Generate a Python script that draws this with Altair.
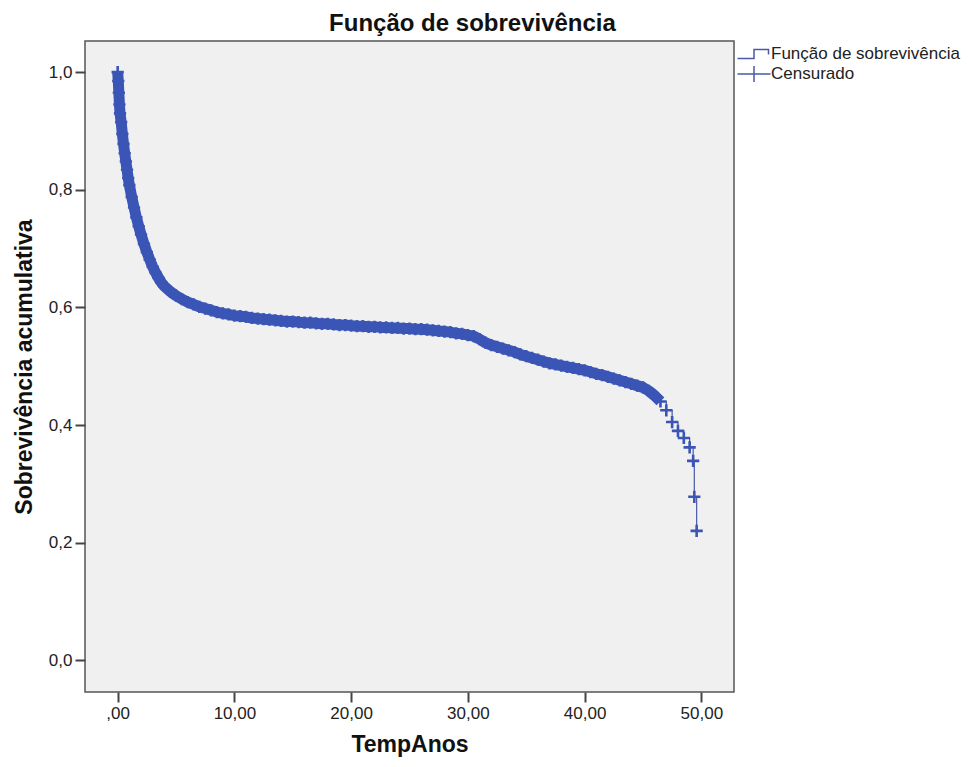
import altair as alt
import pandas as pd

# Kaplan-Meier estimate (time in years, cumulative survival)
time_years = [
    0.0, 0.05, 0.1, 0.15, 0.2, 0.3, 0.4, 0.5, 0.6, 0.7, 0.8, 0.9, 1.0,
    1.2, 1.4, 1.6, 1.8, 2.0, 2.25, 2.5, 2.75, 3.0, 3.25, 3.5, 3.75, 4.0,
    4.5, 5.0, 5.5, 6.0, 6.5, 7.0, 7.5, 8.0, 8.5, 9.0, 9.5, 10.0, 10.5,
    11.0, 11.5, 12.0, 12.5, 13.0, 13.5, 14.0, 14.5, 15.0, 15.5, 16.0,
    16.5, 17.0, 17.5, 18.0, 18.5, 19.0, 19.5, 20.0, 20.5, 21.0, 21.5,
    22.0, 22.5, 23.0, 23.5, 24.0, 24.5, 25.0, 25.5, 26.0, 26.5, 27.0,
    27.5, 28.0, 28.5, 29.0, 29.5, 30.0, 30.5, 31.0, 31.5, 32.0, 32.5,
    33.0, 33.5, 34.0, 34.5, 35.0, 35.5, 36.0, 36.5, 37.0, 37.5, 38.0,
    38.5, 39.0, 39.5, 40.0, 40.5, 41.0, 41.5, 42.0, 42.5, 43.0, 43.5,
    44.0, 44.5, 45.0, 45.5, 46.0, 46.5, 47.0, 47.5, 48.0, 48.5, 49.0,
    49.3, 49.4, 49.6,
]
survival = [
    1.000, 0.985, 0.965, 0.945, 0.930, 0.915, 0.895, 0.878, 0.862, 0.848, 0.834, 0.820, 0.808,
    0.788, 0.770, 0.753, 0.738, 0.724, 0.708, 0.694, 0.681, 0.669, 0.659, 0.650, 0.642, 0.636,
    0.627, 0.620, 0.614, 0.609, 0.605, 0.601, 0.598, 0.595, 0.592, 0.590, 0.588, 0.586, 0.585,
    0.584, 0.582, 0.581, 0.580, 0.579, 0.578, 0.577, 0.576, 0.576, 0.575, 0.574,
    0.574, 0.573, 0.572, 0.572, 0.571, 0.570, 0.570, 0.569, 0.568, 0.568, 0.567,
    0.567, 0.566, 0.566, 0.565, 0.565, 0.564, 0.564, 0.563, 0.563, 0.562, 0.561,
    0.560, 0.559, 0.558, 0.556, 0.555, 0.553, 0.551, 0.546, 0.540, 0.536, 0.533,
    0.530, 0.527, 0.524, 0.520, 0.517, 0.514, 0.511, 0.508, 0.505, 0.503, 0.501,
    0.499, 0.497, 0.495, 0.493, 0.490, 0.487, 0.485, 0.482, 0.479, 0.476, 0.473,
    0.470, 0.467, 0.464, 0.458, 0.450, 0.440, 0.425, 0.405, 0.390, 0.378, 0.362,
    0.339, 0.278, 0.220,
]
# censoring is so dense up to this time that the marks merge into one band
dense_censoring_until = 46.5

series_names = ["Função de sobrevivência", "Censurado"]
x_ticks = [0, 10, 20, 30, 40, 50]
y_ticks = [0.0, 0.2, 0.4, 0.6, 0.8, 1.0]

df = pd.DataFrame({"TempAnos": time_years, "S": survival})
df["serie"] = series_names[1]
df_dense = df[df["TempAnos"] <= dense_censoring_until]

FONT = "Liberation Sans"
LINE_COLOR = "#4a5aa6"
CROSS_COLOR = "#3a55b5"
LEG_STEP = "M-1.65,0.45H0V-0.45H1.45V0.05"
LEG_CROSS = "M-1.65,0H1.65M0,-0.8V0.8"
PLUS_PATH = "M-1,0H1M0,-1V1"

axis_common = dict(
    grid=False,
    domain=False,
    tickSize=10,
    tickWidth=2,
    tickColor="#444",
    labelPadding=3,
    labelFont=FONT,
    labelFontSize=17,
    labelColor="#222",
    titleFont=FONT,
    titleFontSize=23,
    titleFontWeight="bold",
    titleColor="#111",
)

x_enc = alt.X(
    "TempAnos:Q",
    scale=alt.Scale(domain=[-2.8, 52.8], nice=False, zero=False),
    axis=alt.Axis(
        values=x_ticks,
        labelExpr="datum.value == 0 ? ',00' : replace(format(datum.value, '.2f'), '.', ',')",
        title="TempAnos",
        titlePadding=12,
        **axis_common,
    ),
)
y_enc = alt.Y(
    "S:Q",
    scale=alt.Scale(domain=[-0.054, 1.053], nice=False, zero=False),
    axis=alt.Axis(
        values=y_ticks,
        labelExpr="replace(format(datum.value, '.1f'), '.', ',')",
        title="Sobrevivência acumulativa",
        titlePadding=12,
        **axis_common,
    ),
)

band = alt.Chart(df_dense).mark_line(
    color=CROSS_COLOR, strokeWidth=11, strokeCap="butt", strokeJoin="round"
).encode(x=x_enc, y=y_enc)

line = alt.Chart(df).mark_line(
    interpolate="step-after", color=LINE_COLOR, strokeWidth=1.2
).encode(x=x_enc, y=y_enc)

points = alt.Chart(df).mark_point(
    shape=PLUS_PATH, filled=False, color=CROSS_COLOR, strokeWidth=2.6, size=150, opacity=1
).encode(x=x_enc, y=y_enc)

legend_carrier = alt.Chart(df).mark_point(
    filled=False, color=LINE_COLOR, size=0, opacity=1
).encode(
    x=x_enc,
    y=y_enc,
    shape=alt.Shape(
        "serie:N",
        scale=alt.Scale(domain=series_names, range=[LEG_STEP, LEG_CROSS]),
        legend=alt.Legend(
            title=None,
            orient="none",
            legendX=658,
            legendY=2,
            symbolSize=400,
            symbolStrokeWidth=1.5,
            symbolStrokeColor=LINE_COLOR,
            symbolFillColor="transparent",
            labelFont=FONT,
            labelFontSize=17,
            labelColor="#222",
            labelLimit=0,
            labelOffset=6,
            rowPadding=1,
            padding=0,
        ),
    ),
)

chart = (
    alt.layer(band, line, points, legend_carrier)
    .properties(
        width=649,
        height=651,
        autosize=alt.AutoSizeParams(type="none"),
        padding={"left": 77, "top": 33, "right": 228, "bottom": 67},
        background="white",
        title=alt.TitleParams(
            "Função de sobrevivência",
            anchor="middle",
            frame="group",
            dx=63,
            offset=5,
            font=FONT,
            fontSize=24,
            fontWeight="bold",
            color="#111",
        ),
    )
    .configure_view(fill="#f0f0f0", stroke="#555", strokeWidth=1.5)
)

chart.save("out.html", embed_options={"renderer": "svg", "actions": False})
